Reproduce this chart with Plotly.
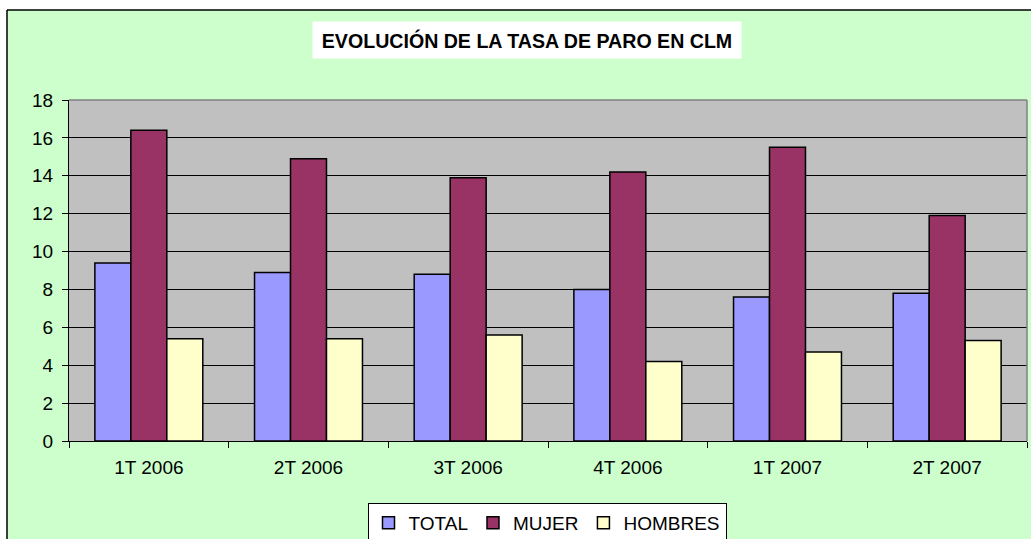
import plotly.graph_objects as go

# data
trimestres = ["1T 2006", "2T 2006", "3T 2006", "4T 2006", "1T 2007", "2T 2007"]
total = [9.4, 8.9, 8.8, 8.0, 7.6, 7.8]
mujer = [16.4, 14.9, 13.9, 14.2, 15.5, 11.9]
hombres = [5.4, 5.4, 5.6, 4.2, 4.7, 5.3]
y_ticks = [0, 2, 4, 6, 8, 10, 12, 14, 16, 18]

W, H = 1031, 539
L, R, T, B = 69, 4, 100, 98
pw, ph = W - L - R, H - T - B


def px_x(p):
    return (p - L) / pw


def px_y(p):
    return 1 - (p - T) / ph


font = "Liberation Sans, Arial, sans-serif"

fig = go.Figure()
series = [("TOTAL", total, "#9999FF"), ("MUJER", mujer, "#993366"), ("HOMBRES", hombres, "#FFFFCC")]
for name, vals, col in series:
    fig.add_trace(go.Bar(
        x=trimestres, y=vals, name=name,
        marker=dict(color=col, line=dict(color="black", width=1.5)),
    ))

fig.update_layout(
    width=W, height=H,
    margin=dict(l=L, r=R, t=T, b=B, autoexpand=False),
    paper_bgcolor="#CCFFCC",
    plot_bgcolor="#C0C0C0",
    barmode="group", bargap=0.324, bargroupgap=0,
    font=dict(family=font, size=19, color="black"),
    showlegend=True,
    legend=dict(
        orientation="h", x=px_x(547), y=px_y(503), xanchor="center", yanchor="top",
        bgcolor="white", bordercolor="black", borderwidth=1,
        font=dict(size=19), itemwidth=30, tracegroupgap=0,
    ),
    xaxis=dict(
        showline=True, linecolor="black", linewidth=1,
        ticks="outside", tickson="boundaries", ticklen=6, tickcolor="black",
        ticklabelstandoff=9, showgrid=False,
    ),
    yaxis=dict(
        range=[0, 18], tickvals=y_ticks, ticktext=[str(v) for v in y_ticks],
        showline=True, linecolor="black", linewidth=1,
        ticks="outside", ticklen=6, tickcolor="black", ticklabelstandoff=5,
        showgrid=True, gridcolor="black", gridwidth=1, zeroline=False,
    ),
    shapes=[
        # white strips outside the chart frame (top and left)
        dict(type="rect", xref="paper", yref="paper", layer="below",
             x0=px_x(-5), x1=px_x(1040), y0=px_y(10), y1=px_y(-5),
             fillcolor="white", line=dict(width=0)),
        dict(type="rect", xref="paper", yref="paper", layer="below",
             x0=px_x(-5), x1=px_x(7), y0=px_y(545), y1=px_y(-5),
             fillcolor="white", line=dict(width=0)),
        # black frame lines
        dict(type="line", xref="paper", yref="paper",
             x0=px_x(7), x1=px_x(1040), y0=px_y(10), y1=px_y(10),
             line=dict(color="black", width=1.5)),
        dict(type="line", xref="paper", yref="paper",
             x0=px_x(7), x1=px_x(7), y0=px_y(10), y1=px_y(545),
             line=dict(color="black", width=1.5)),
        # gray top/right edges of plot area
        dict(type="line", xref="paper", yref="paper", x0=0, x1=1, y0=1, y1=1,
             line=dict(color="#808080", width=1.5)),
        dict(type="line", xref="paper", yref="paper", x0=1, x1=1, y0=0, y1=1,
             line=dict(color="#808080", width=1.5)),
    ],
    annotations=[
        dict(text="<b>EVOLUCIÓN DE LA TASA DE PARO EN CLM</b>", xref="paper", yref="paper",
             x=px_x(527), y=px_y(40), xanchor="center", yanchor="middle",
             showarrow=False, bgcolor="white", width=428, height=36, borderpad=0,
             font=dict(family=font, size=19.6, color="black")),
    ],
)

# drop the default page margin so the figure sits at the window corner
fig.write_html("out.html", config={"displayModeBar": False},
               post_script="document.body.style.margin='0';")
